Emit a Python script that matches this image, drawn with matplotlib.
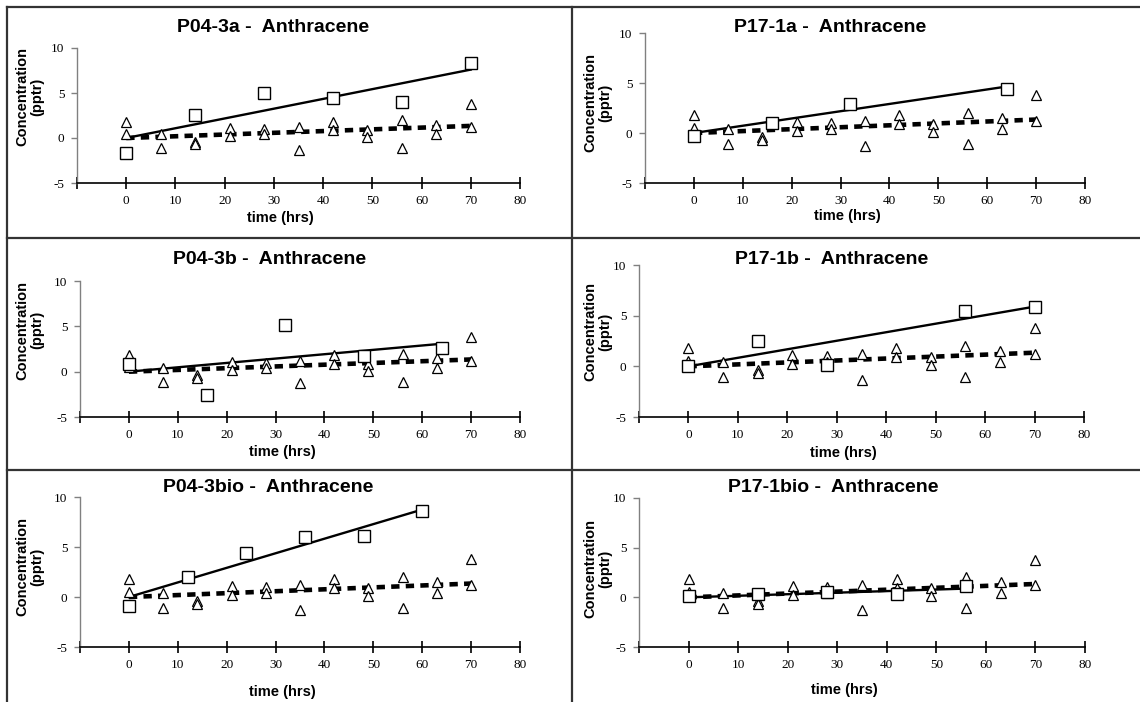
############################################################
# anthracene concentration vs time, six sample panels
############################################################
import numpy as np
import matplotlib.pyplot as plt
from matplotlib.lines import Line2D

plt.rcParams['font.family'] = ['Liberation Sans', 'DejaVu Sans']
plt.rcParams['lines.scale_dashes'] = False

# control samples (triangles) - the same set shows up in every panel
ctrl_t = [0, 0, 7, 7, 14, 14, 21, 21, 28, 28, 35, 35, 42, 42, 49, 49, 56, 56, 63, 63, 70, 70]
ctrl_c = [1.8, 0.5, 0.4, -1.1, -0.4, -0.7, 1.1, 0.2, 1.0, 0.4, 1.2, -1.3,
          1.8, 0.9, 0.9, 0.1, 2.0, -1.1, 1.5, 0.4, 3.8, 1.2]

# samples (squares)
names = ['P04-3a', 'P17-1a', 'P04-3b', 'P17-1b', 'P04-3bio', 'P17-1bio']
samp_t = [[0, 14, 28, 42, 56, 70],
          [0, 16, 32, 64],
          [0, 16, 32, 48, 64],
          [0, 14, 28, 56, 70],
          [0, 12, 24, 36, 48, 60],
          [0, 14, 28, 42, 56]]
samp_c = [[-1.7, 2.6, 5.0, 4.5, 4.0, 8.3],
          [-0.3, 1.0, 2.9, 4.4],
          [0.9, -2.6, 5.1, 1.7, 2.6],
          [0.0, 2.5, 0.1, 5.5, 5.9],
          [-0.9, 2.0, 4.4, 6.0, 6.1, 8.6],
          [0.1, 0.3, 0.5, 0.3, 1.1]]

xticks = [-10, 0, 10, 20, 30, 40, 50, 60, 70, 80]
xticklabels = ['', '0', '10', '20', '30', '40', '50', '60', '70', '80']
yticks = [-5, 0, 5, 10]

W, H = 1140, 702
# plot boxes in pixels: left, right, top, bottom
boxes = [(77, 520, 48, 183), (645, 1085, 33, 183),
         (80, 520, 281, 417), (639, 1084, 265, 417),
         (80, 520, 497, 647), (639, 1085, 498, 647)]
title_xy = [(273, 27), (830, 27), (270, 260), (832, 260), (268, 488), (833, 488)]
xlab_y = [218, 216, 452, 453, 692, 690]
ylab_xy = [(30, 97), (598, 103), (30, 330), (598, 332), (30, 567), (598, 569)]


def slope0(x, y):
    # least squares line forced through the origin
    x = np.asarray(x, float)
    y = np.asarray(y, float)
    return (x * y).sum() / (x * x).sum()


fig = plt.figure(figsize=(W / 100, H / 100), dpi=100)

for i in range(6):
    l, r, t, b = boxes[i]
    ax = fig.add_axes([l / W, 1 - b / H, (r - l) / W, (b - t) / H])
    ax.set_xlim(-10, 80)
    ax.set_ylim(-5, 10)
    ax.patch.set_alpha(0)

    # trend lines
    k = slope0(ctrl_t, ctrl_c)
    xx = np.array([0, max(ctrl_t)])
    ax.plot(xx, k * xx, color='black', lw=3.3, dashes=(6, 4.5), zorder=2)
    k = slope0(samp_t[i], samp_c[i])
    xx = np.array([0, max(samp_t[i])])
    ax.plot(xx, k * xx, color='black', lw=1.7, zorder=2)

    ax.plot(ctrl_t, ctrl_c, ls='none', marker='^', ms=6.5, mfc='white', mec='black',
            mew=0.9, zorder=3, clip_on=False)
    ax.plot(samp_t[i], samp_c[i], ls='none', marker='s', ms=8.5, mfc='white', mec='black',
            mew=1.0, zorder=4, clip_on=False)

    for s in ['top', 'right']:
        ax.spines[s].set_visible(False)
    ax.spines['left'].set_color('#808080')
    ax.spines['left'].set_linewidth(1.0)
    ax.spines['bottom'].set_color('black')
    ax.spines['bottom'].set_linewidth(1.2)
    ax.set_xticks(xticks)
    ax.set_xticklabels(xticklabels, family='Liberation Serif', fontsize=9.5)
    ax.set_yticks(yticks)
    ax.set_yticklabels([str(v) for v in yticks], family='Liberation Serif', fontsize=9.5)
    ax.tick_params(axis='x', direction='inout', length=8, width=1.2, color='black', pad=5)
    ax.tick_params(axis='y', direction='out', length=4, width=1.0, color='#808080', pad=5)

    fig.text(title_xy[i][0] / W, 1 - title_xy[i][1] / H, names[i] + ' -  Anthracene',
             ha='center', va='center', fontsize=14, fontweight='bold')
    fig.text((l + (r - l) * 0.46) / W, 1 - xlab_y[i] / H, 'time (hrs)',
             ha='center', va='center', fontsize=10.5, fontweight='bold')
    fig.text(ylab_xy[i][0] / W, 1 - ylab_xy[i][1] / H, 'Concentration\n(pptr)',
             ha='center', va='center', rotation=90, fontsize=10.5,
             fontweight='bold', linespacing=1.1, multialignment='center')

# panel borders
bc = '#333333'
fig.add_artist(Line2D([7 / W, 1], [1 - 7 / H] * 2, color=bc, lw=1.6))
fig.add_artist(Line2D([7 / W] * 2, [0, 1 - 7 / H], color=bc, lw=1.6))
fig.add_artist(Line2D([572 / W] * 2, [0, 1 - 7 / H], color=bc, lw=1.6))
for yy in [238, 470]:
    fig.add_artist(Line2D([7 / W, 1], [1 - yy / H] * 2, color=bc, lw=1.6))

fig.savefig('out.png', dpi=100)
plt.close(fig)
